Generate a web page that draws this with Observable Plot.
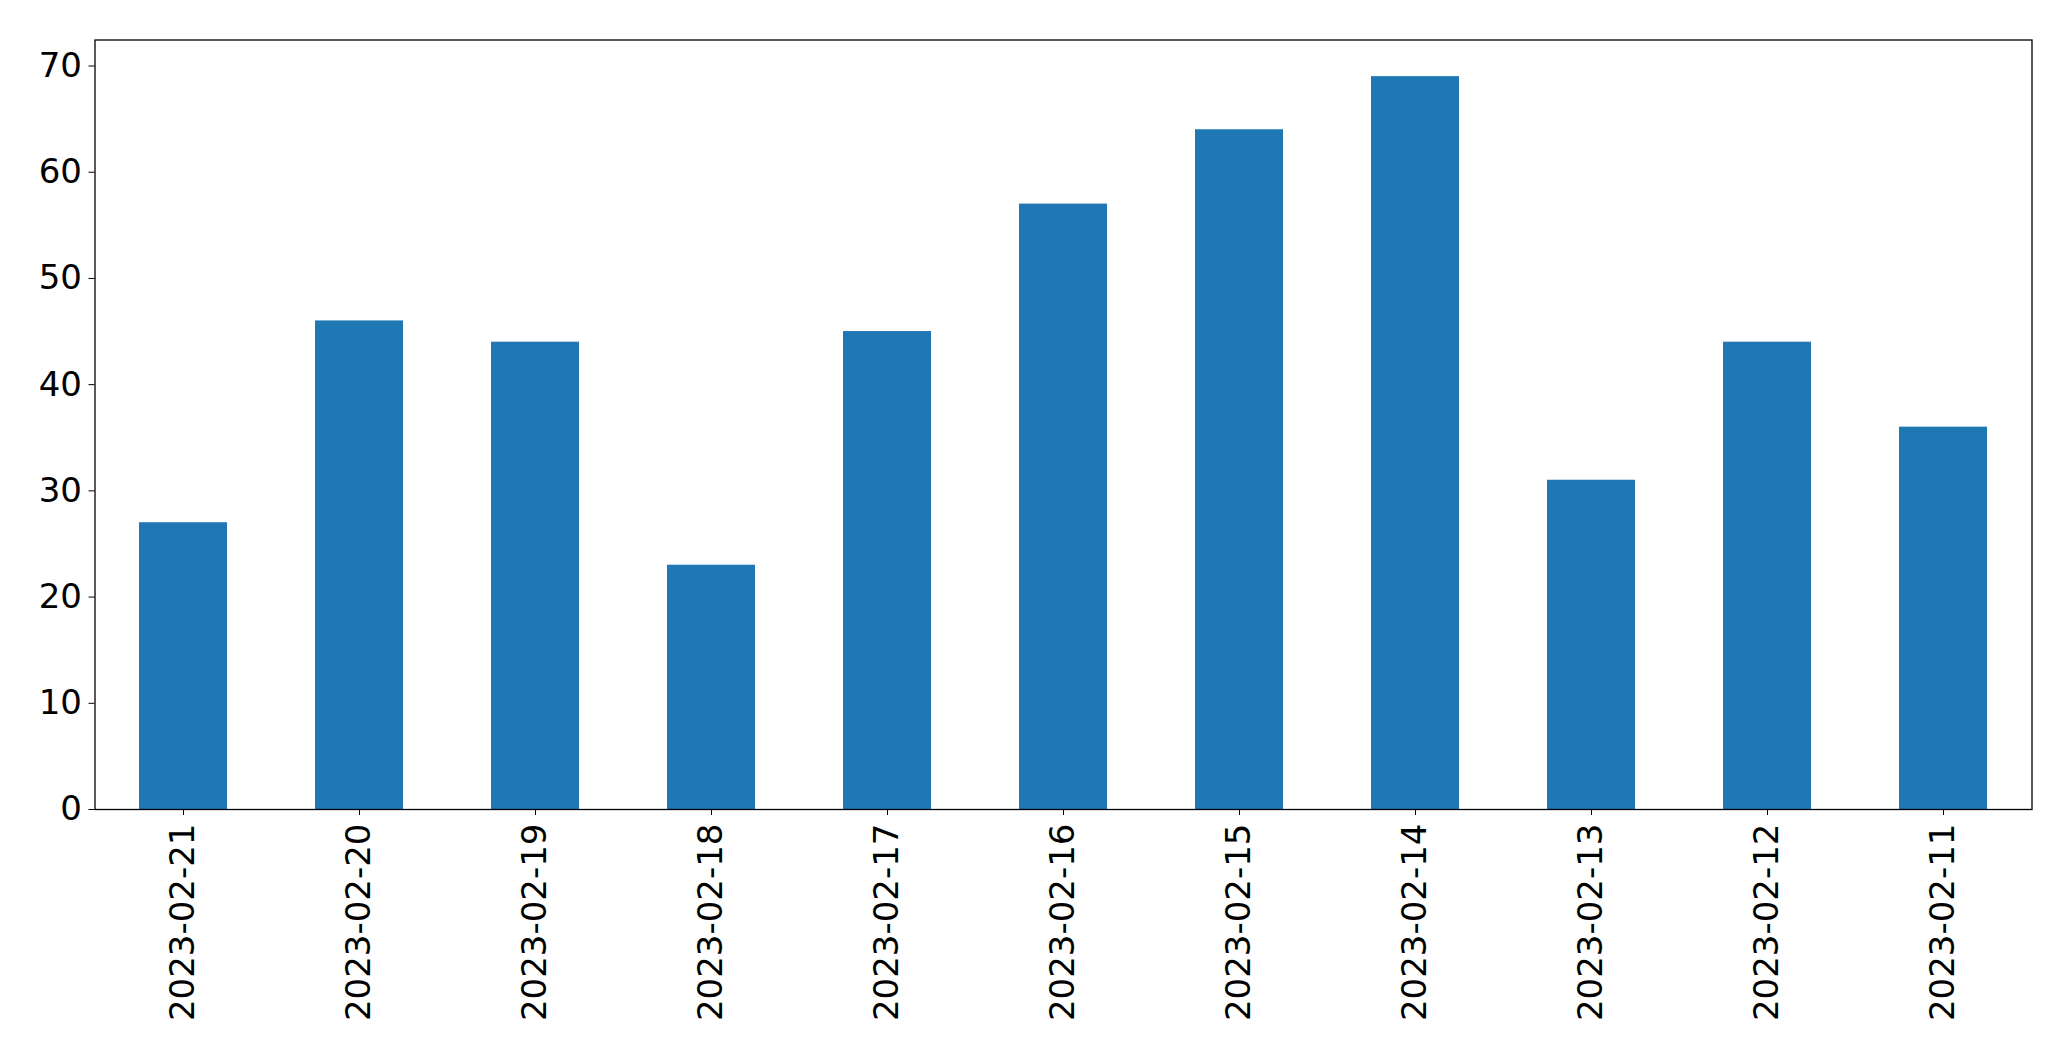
<!DOCTYPE html>
<html>
<head>
<meta charset="utf-8">
<script src="https://cdn.jsdelivr.net/npm/d3@7"></script>
<script src="https://cdn.jsdelivr.net/npm/@observablehq/plot@0.6"></script>
<style>
  html, body { margin: 0; padding: 0; background: #fff; }
</style>
</head>
<body>
<div id="chart"></div>
<script>
const dates = ["2023-02-21","2023-02-20","2023-02-19","2023-02-18","2023-02-17","2023-02-16","2023-02-15","2023-02-14","2023-02-13","2023-02-12","2023-02-11"];
const counts = [27, 46, 44, 23, 45, 57, 64, 69, 31, 44, 36];
const yTicks = [0, 10, 20, 30, 40, 50, 60, 70];

const data = dates.map((d, i) => ({date: d, count: counts[i]}));

const chart = Plot.plot({
  width: 2071,
  height: 1061,
  marginLeft: 94.5,
  marginRight: 39.5,
  marginTop: 39.5,
  marginBottom: 252,
  style: {fontFamily: "DejaVu Sans", fontSize: "34px", color: "#000", background: "#fff"},
  x: {domain: dates, paddingInner: 0.5, paddingOuter: 0.25, label: null},
  y: {domain: [0, 72.45], label: null},
  marks: [
    Plot.barY(data, {x: "date", y: "count", fill: "#1f77b4"}),
    Plot.axisY({ticks: yTicks, tickSize: 6, tickPadding: 7, label: null, fontSize: 34, stroke: "#000"}),
    Plot.axisX({tickSize: 6, tickPadding: 8, tickRotate: -90, label: null, fontSize: 34, stroke: "#000"}),
    Plot.frame({stroke: "#000", strokeWidth: 1.3})
  ]
});
document.getElementById("chart").appendChild(chart);
</script>
</body>
</html>
